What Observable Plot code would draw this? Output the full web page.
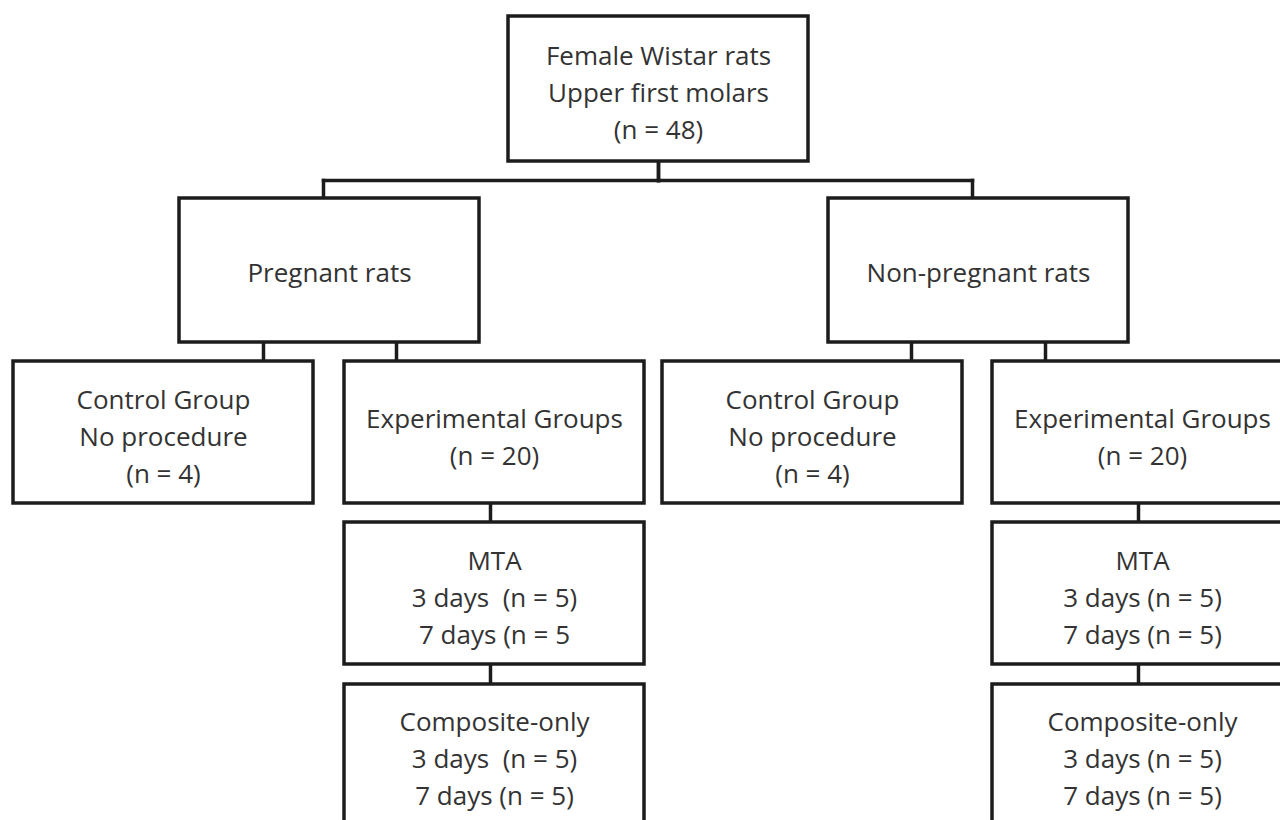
<!DOCTYPE html>
<html>
<head>
<meta charset="utf-8">
<script src="https://cdn.jsdelivr.net/npm/d3@7"></script>
<script src="https://cdn.jsdelivr.net/npm/@observablehq/plot@0.6"></script>
<style>
  html, body { margin: 0; padding: 0; background: #fff; }
  #chart { width: 1280px; height: 820px; overflow: hidden; }
  #chart svg text, #chart svg tspan { white-space: pre; }
</style>
</head>
<body>
<div id="chart"></div>
<script>
// ---- data: the flowchart's nodes (text) and their tree structure ----
const nodeLabels = [
  "Female Wistar rats\nUpper first molars\n(n = 48)",
  "Pregnant rats",
  "Non-pregnant rats",
  "Control Group\nNo procedure\n(n = 4)",
  "Experimental Groups\n(n = 20)",
  "Control Group\nNo procedure\n(n = 4)",
  "Experimental Groups\n(n = 20)",
  "MTA\n3 days  (n = 5)\n7 days (n = 5",
  "Composite-only\n3 days  (n = 5)\n7 days (n = 5)",
  "MTA\n3 days (n = 5)\n7 days (n = 5)",
  "Composite-only\n3 days (n = 5)\n7 days (n = 5)"
];
const nodeParents = [-1, 0, 0, 1, 1, 2, 2, 4, 7, 6, 9];
const nodeLevels  = [0, 1, 1, 2, 2, 2, 2, 3, 4, 3, 4];

// ---- layout (positions kept separate from the data) ----
const colCenters = [658, 329, 978, 163, 494, 812, 1142, 494, 494, 1142, 1142];
const boxWidth = 300;
const rowTops    = [16, 198, 361, 522, 684];
const rowBottoms = [161, 342, 503, 664, 840];
const rowTextCenters = [90, 270, 434, 595, 756];
const attachX    = [null, 323, 972, 263, 396, 911, 1045, 490, 490, 1138, 1138];
const busY = 180;

const nodes = nodeLabels.map((label, i) => ({
  label,
  x1: colCenters[i] - boxWidth / 2,
  x2: colCenters[i] + boxWidth / 2,
  y1: rowTops[nodeLevels[i]],
  y2: rowBottoms[nodeLevels[i]],
  cx: colCenters[i],
  cy: rowTextCenters[nodeLevels[i]]
}));

const links = [];
nodes.forEach((n, i) => {
  const p = nodeParents[i];
  if (p < 0) return;
  const parent = nodes[p];
  if (p === 0) {
    links.push({x1: parent.cx, y1: parent.y2, x2: parent.cx, y2: busY});
    links.push({x1: attachX[i], y1: busY, x2: parent.cx, y2: busY});
    links.push({x1: attachX[i], y1: busY, x2: attachX[i], y2: n.y1});
  } else {
    links.push({x1: attachX[i], y1: parent.y2, x2: attachX[i], y2: n.y1});
  }
});

const chart = Plot.plot({
  width: 1280,
  height: 820,
  margin: 0,
  x: {domain: [0, 1280], range: [0, 1280], axis: null},
  y: {domain: [0, 820], range: [0, 820], axis: null},
  style: {fontFamily: "'Open Sans', Lato, sans-serif", background: "#fff"},
  marks: [
    Plot.link(links, {x1: "x1", y1: "y1", x2: "x2", y2: "y2", stroke: "#1c1c1c", strokeWidth: 3.5, strokeLinecap: "square"}),
    Plot.rect(nodes, {x1: "x1", x2: "x2", y1: "y1", y2: "y2", fill: "white", stroke: "#1c1c1c", strokeWidth: 3.5}),
    Plot.text(nodes, {x: "cx", y: "cy", text: "label", fontSize: 26, lineHeight: 1.42, fill: "#333333"})
  ]
});
document.getElementById("chart").appendChild(chart);
</script>
</body>
</html>
